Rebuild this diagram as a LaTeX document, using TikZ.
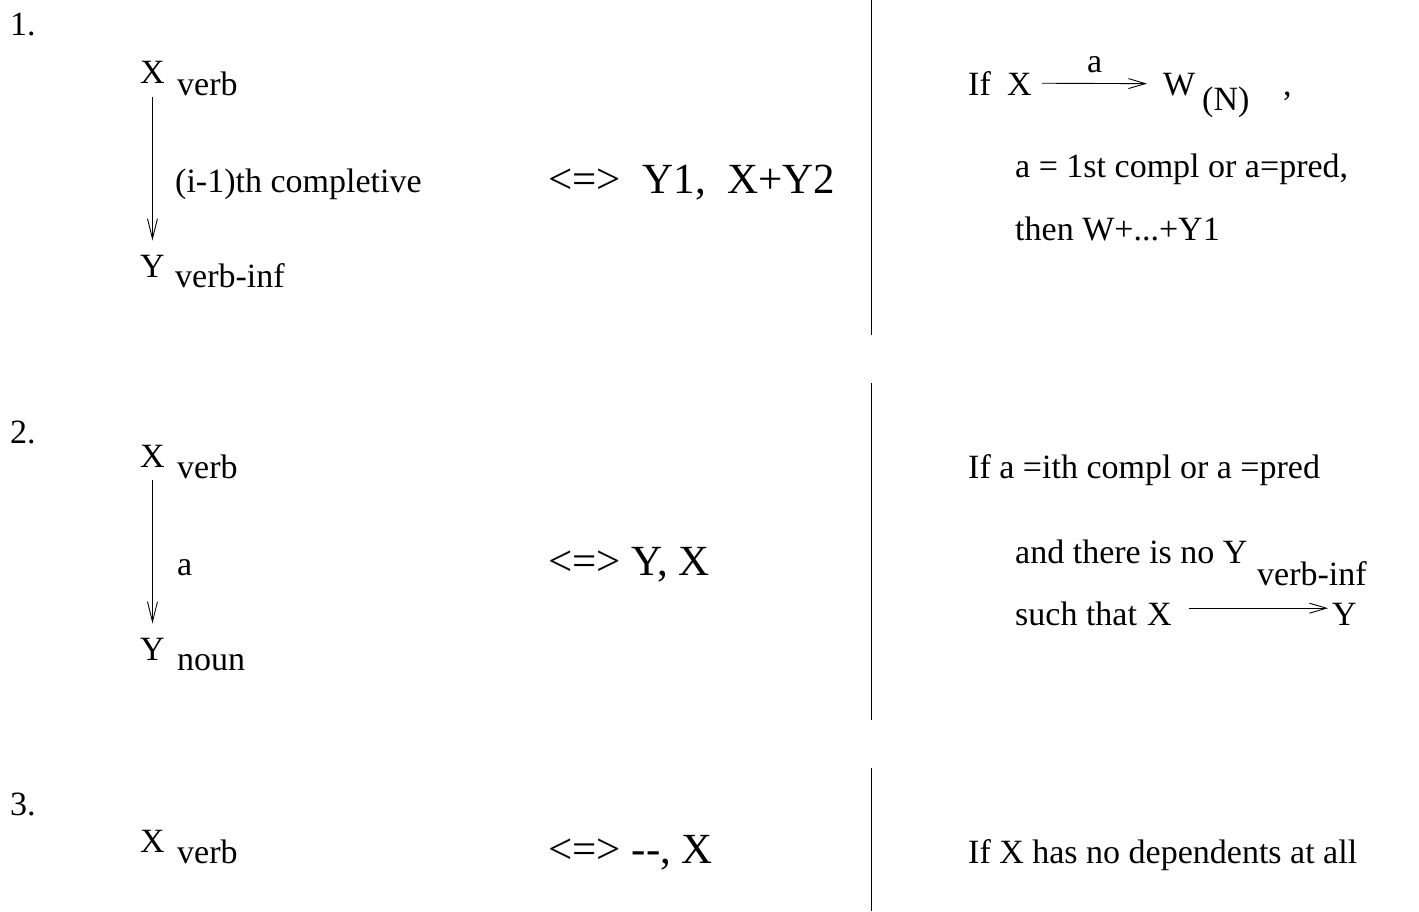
\documentclass[tikz,border=0pt]{standalone}
\usepackage{fontspec}
\setmainfont{Liberation Serif}
\usetikzlibrary{arrows.meta}

\tikzset{
  lbl/.style={font=\fontsize{34}{40}\selectfont, inner sep=0pt, anchor=base west},
  big/.style={lbl, font=\fontsize{43}{50}\selectfont},
  dep/.style={line width=0.9pt, -{Straight Barb[length=20pt,width=10pt,line width=0.9pt]}},
  rule/.style={line width=0.9pt}
}

\begin{document}
\begin{tikzpicture}[x=1pt, y=-1pt]
    \useasboundingbox (0,0) rectangle (1419,911);
    % Dividers
    \draw[rule] (871,0) -- (871,335);
    \draw[rule] (871,383) -- (871,720);
    \draw[rule] (871,768) -- (871,911);

    % Rule 1
    \node[lbl] (n1) at (10,35) {1.};
    \node[lbl] (x1) at (140,83) {X};
    \node[lbl] (x1s) at (177,95) {verb};
    \node[lbl] (y1) at (140,277) {Y};
    \node[lbl] (y1s) at (175,287) {verb-inf};
    \draw[dep, shorten <=14pt, shorten >=14pt] (x1.south) -- (y1.north);
    \node[lbl] (a1) at (175,192) {(i-1)th completive};
    \node[big] (r1) at (548,193) {<=>\ \ Y1,\ \ X+Y2};
    % condition 1
    \node[lbl] (if1) at (968,95) {If};
    \node[lbl] (cx1) at (1007,95) {X};
    \node[lbl] (cw1) at (1163,95) {W};
    \node[lbl] (cw1s) at (1202,110) {(N)};
    \node[lbl] (cm1) at (1283,95) {,};
    \draw[dep, shorten <=10pt, shorten >=16pt, {-Straight Barb[length=17pt,width=10pt,line width=0.9pt]}]
      ([yshift=12pt]cx1.south east) -- ([yshift=12pt]cw1.south west);
    \node[lbl] (ca1) at (1087,72) {a};
    \node[lbl] (c1b) at (1015,177) {a = 1st compl or a=pred,};
    \node[lbl] (c1c) at (1015,240) {then W+...+Y1};

    % Rule 2
    \node[lbl] (n2) at (10,443) {2.};
    \node[lbl] (x2) at (140,467) {X};
    \node[lbl] (x2s) at (177,478) {verb};
    \node[lbl] (y2) at (140,660) {Y};
    \node[lbl] (y2s) at (177,670) {noun};
    \draw[dep, shorten <=13pt, shorten >=14pt] (x2.south) -- (y2.north);
    \node[lbl] (a2) at (177,575) {a};
    \node[big] (r2) at (548,575) {<=> Y, X};
    % condition 2
    \node[lbl] (c2a) at (968,478) {If a =ith compl or a =pred};
    \node[lbl] (c2b) at (1015,563) {and there is no Y};
    \node[lbl] (c2s) at (1257,585) {verb-inf};
    \node[lbl] (c2c) at (1015,625) {such that};
    \node[lbl] (cx2) at (1147,625) {X};
    \node[lbl] (cy2) at (1332,625) {Y};
    \draw[dep, shorten <=17pt, shorten >=4pt, {-Straight Barb[length=17pt,width=10pt,line width=0.9pt]}]
      ([yshift=17pt]cx2.south east) -- ([yshift=17pt]cy2.south west);

    % Rule 3
    \node[lbl] (n3) at (10,815) {3.};
    \node[lbl] (x3) at (140,852) {X};
    \node[lbl] (x3s) at (177,863) {verb};
    \node[big] (r3) at (548,863) {<=> -{}-, X};
    \node[lbl] (c3a) at (968,863) {If X has no dependents at all};
\end{tikzpicture}
\end{document}
